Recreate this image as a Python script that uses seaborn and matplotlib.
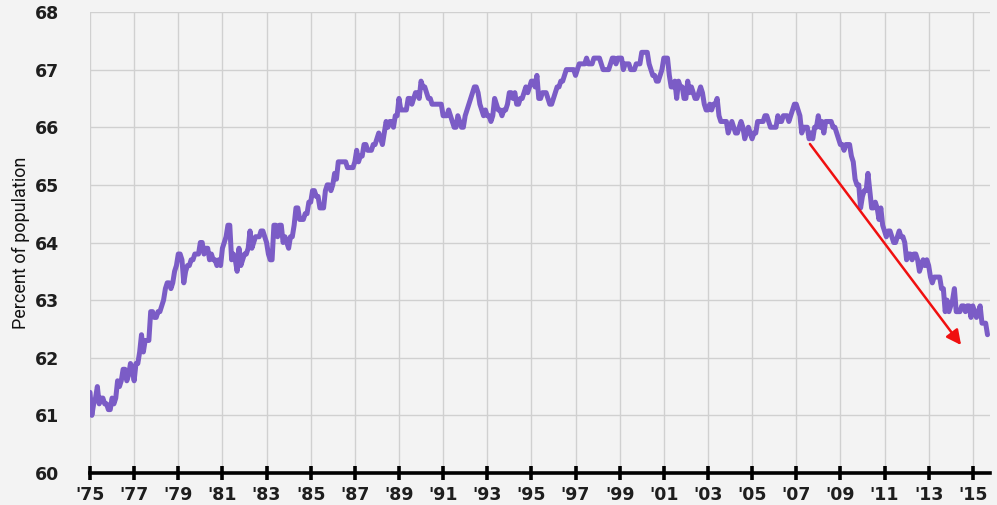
import numpy as np
import pandas as pd
import matplotlib
matplotlib.use("Agg")
import matplotlib.pyplot as plt
import seaborn as sns

# monthly civilian labor force participation rate, Jan 1975 - Sep 2015
rate_by_year = {
    1975: [61.4, 61.0, 61.2, 61.3, 61.5, 61.2, 61.3, 61.3, 61.2, 61.2, 61.1, 61.1],
    1976: [61.3, 61.2, 61.3, 61.6, 61.5, 61.6, 61.8, 61.8, 61.6, 61.7, 61.9, 61.8],
    1977: [61.6, 61.9, 61.9, 62.1, 62.4, 62.1, 62.3, 62.3, 62.3, 62.8, 62.8, 62.7],
    1978: [62.7, 62.8, 62.8, 62.9, 63.0, 63.2, 63.3, 63.3, 63.2, 63.3, 63.5, 63.6],
    1979: [63.8, 63.8, 63.7, 63.3, 63.5, 63.6, 63.6, 63.7, 63.7, 63.8, 63.8, 63.8],
    1980: [64.0, 64.0, 63.8, 63.9, 63.9, 63.7, 63.8, 63.7, 63.7, 63.6, 63.7, 63.6],
    1981: [63.9, 64.0, 64.1, 64.3, 64.3, 63.7, 63.8, 63.7, 63.5, 63.9, 63.6, 63.7],
    1982: [63.8, 63.8, 63.9, 64.2, 63.9, 64.0, 64.1, 64.1, 64.1, 64.2, 64.2, 64.1],
    1983: [64.0, 63.8, 63.7, 63.7, 64.3, 64.3, 64.1, 64.3, 64.3, 64.0, 64.1, 64.0],
    1984: [63.9, 64.1, 64.1, 64.3, 64.6, 64.6, 64.4, 64.4, 64.4, 64.5, 64.5, 64.7],
    1985: [64.7, 64.9, 64.9, 64.8, 64.8, 64.6, 64.6, 64.6, 64.9, 65.0, 65.0, 64.9],
    1986: [65.0, 65.2, 65.1, 65.4, 65.4, 65.4, 65.4, 65.4, 65.3, 65.3, 65.3, 65.3],
    1987: [65.4, 65.6, 65.4, 65.5, 65.5, 65.7, 65.7, 65.6, 65.6, 65.6, 65.7, 65.7],
    1988: [65.8, 65.9, 65.8, 65.7, 65.9, 66.1, 66.0, 66.1, 66.1, 66.0, 66.2, 66.2],
    1989: [66.5, 66.3, 66.3, 66.3, 66.3, 66.5, 66.5, 66.4, 66.5, 66.6, 66.6, 66.5],
    1990: [66.8, 66.7, 66.7, 66.6, 66.5, 66.5, 66.4, 66.4, 66.4, 66.4, 66.4, 66.4],
    1991: [66.2, 66.2, 66.2, 66.3, 66.2, 66.1, 66.0, 66.0, 66.2, 66.1, 66.0, 66.0],
    1992: [66.2, 66.3, 66.4, 66.5, 66.6, 66.7, 66.7, 66.6, 66.4, 66.3, 66.2, 66.3],
    1993: [66.2, 66.2, 66.1, 66.2, 66.5, 66.4, 66.3, 66.3, 66.2, 66.3, 66.3, 66.4],
    1994: [66.6, 66.6, 66.5, 66.6, 66.4, 66.4, 66.5, 66.5, 66.6, 66.7, 66.6, 66.7],
    1995: [66.8, 66.8, 66.7, 66.9, 66.5, 66.5, 66.6, 66.6, 66.6, 66.5, 66.4, 66.4],
    1996: [66.5, 66.6, 66.7, 66.7, 66.8, 66.8, 66.9, 67.0, 67.0, 67.0, 67.0, 67.0],
    1997: [66.9, 67.0, 67.1, 67.1, 67.1, 67.1, 67.2, 67.1, 67.1, 67.1, 67.2, 67.2],
    1998: [67.2, 67.2, 67.1, 67.0, 67.0, 67.0, 67.0, 67.1, 67.2, 67.2, 67.1, 67.2],
    1999: [67.2, 67.2, 67.0, 67.1, 67.1, 67.1, 67.0, 67.0, 67.0, 67.1, 67.1, 67.1],
    2000: [67.3, 67.3, 67.3, 67.3, 67.1, 67.0, 66.9, 66.9, 66.8, 66.8, 66.9, 67.0],
    2001: [67.2, 67.2, 67.2, 66.9, 66.7, 66.7, 66.8, 66.5, 66.8, 66.7, 66.7, 66.5],
    2002: [66.5, 66.8, 66.6, 66.7, 66.6, 66.5, 66.5, 66.6, 66.7, 66.6, 66.4, 66.3],
    2003: [66.3, 66.4, 66.3, 66.4, 66.4, 66.5, 66.2, 66.1, 66.1, 66.1, 66.1, 65.9],
    2004: [66.0, 66.1, 66.0, 65.9, 65.9, 66.0, 66.1, 66.0, 65.8, 65.9, 66.0, 65.9],
    2005: [65.8, 65.9, 65.9, 66.1, 66.1, 66.1, 66.1, 66.2, 66.2, 66.1, 66.0, 66.0],
    2006: [66.0, 66.0, 66.2, 66.1, 66.1, 66.2, 66.2, 66.2, 66.1, 66.2, 66.3, 66.4],
    2007: [66.4, 66.3, 66.2, 65.9, 66.0, 66.0, 66.0, 65.8, 65.9, 65.8, 66.0, 66.0],
    2008: [66.2, 66.0, 66.1, 65.9, 66.1, 66.1, 66.1, 66.1, 66.0, 66.0, 65.9, 65.8],
    2009: [65.7, 65.7, 65.6, 65.7, 65.7, 65.7, 65.5, 65.4, 65.1, 65.0, 65.0, 64.6],
    2010: [64.8, 64.9, 64.9, 65.2, 64.9, 64.6, 64.6, 64.7, 64.6, 64.4, 64.6, 64.3],
    2011: [64.2, 64.1, 64.2, 64.2, 64.1, 64.0, 64.0, 64.1, 64.2, 64.1, 64.1, 64.0],
    2012: [63.7, 63.8, 63.8, 63.7, 63.8, 63.8, 63.7, 63.5, 63.6, 63.7, 63.6, 63.7],
    2013: [63.6, 63.4, 63.3, 63.4, 63.4, 63.4, 63.4, 63.2, 63.2, 62.8, 63.0, 62.8],
    2014: [62.9, 63.0, 63.2, 62.8, 62.8, 62.8, 62.9, 62.9, 62.8, 62.9, 62.9, 62.7],
    2015: [62.9, 62.8, 62.7, 62.8, 62.9, 62.6, 62.6, 62.6, 62.4],
}

tick_years = list(range(1975, 2016, 2))
tick_labels = ["'" + str(y)[2:] for y in tick_years]

# trend arrow (data coords)
arrow_start = (2007.62, 65.71)
arrow_end = (2014.47, 62.22)

rows = []
for yr, vals in rate_by_year.items():
    for m, v in enumerate(vals):
        rows.append({"year": yr + m / 12.0, "rate": v})
df = pd.DataFrame(rows)

bg = "#f3f3f3"
sns.set_style("whitegrid")

fig = plt.figure(figsize=(9.97, 5.05), dpi=100, facecolor=bg)
ax = fig.add_axes([90 / 997, 32 / 505, 900 / 997, 461 / 505])
ax.set_facecolor(bg)

sns.lineplot(data=df, x="year", y="rate", ax=ax, color="#7b5cc6",
             linewidth=3.6, solid_joinstyle="round")

ax.annotate("", xy=arrow_end, xytext=arrow_start,
            arrowprops=dict(arrowstyle="-|>", color="#f01010", lw=1.8,
                            mutation_scale=22, shrinkA=0, shrinkB=0))

ax.set_xlim(1975, 2015.78)
ax.set_ylim(60, 68)
ax.set_xticks(tick_years)
ax.set_xticklabels(tick_labels)
ax.set_yticks(range(60, 69))

ax.grid(True, color="#d0d0d0", linewidth=1.0)
ax.set_axisbelow(True)
for side in ["top", "right", "left"]:
    ax.spines[side].set_visible(False)
ax.spines["bottom"].set_color("black")
ax.spines["bottom"].set_linewidth(2.6)
ax.spines["bottom"].set_zorder(5)

ax.tick_params(axis="x", direction="inout", length=10, width=2.6,
               color="black", pad=4, bottom=True)
ax.tick_params(axis="y", length=0, pad=22)
for lab in ax.get_xticklabels() + ax.get_yticklabels():
    lab.set_fontfamily("DejaVu Sans")
    lab.set_fontweight("bold")
    lab.set_fontsize(12.5)
    lab.set_color("#1e1e1e")

ax.set_xlabel("")
ax.set_ylabel("Percent of population", fontsize=13, color="#111111",
              family=["Roboto", "DejaVu Sans"], labelpad=4)

fig.savefig("out.png", dpi=100, facecolor=bg)
